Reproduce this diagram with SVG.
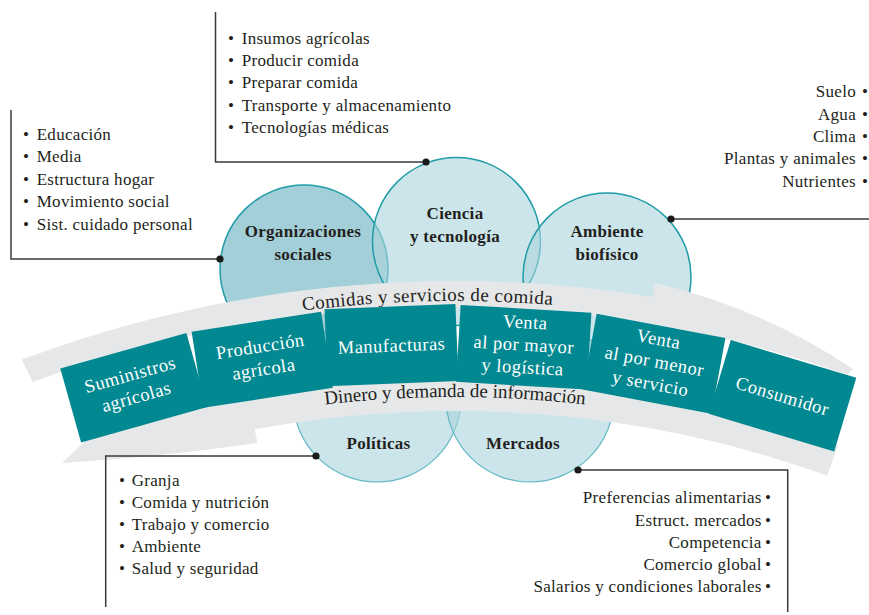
<svg xmlns="http://www.w3.org/2000/svg" width="869" height="615" viewBox="0 0 869 615">
<style>
.bg{fill:#ffffff}
.circ-up{stroke:#1f9ca7;stroke-width:1.5}
.circ-low{stroke:#63b9c3;stroke-width:1.2}
.fill-dark{fill:#a3cfd8}
.fill-light{fill:#aad4dc;fill-opacity:0.6}
.band{fill:#e6e7e8}
.box{fill:#028890}
.lbl{font-family:"Liberation Serif","DejaVu Serif",serif;font-weight:bold;font-size:17px;fill:#231f20;text-anchor:middle;letter-spacing:0.3px}
.boxt{font-family:"Liberation Serif","DejaVu Serif",serif;font-size:18.5px;fill:#ffffff;text-anchor:middle;letter-spacing:0.5px}
.bandt{font-family:"Liberation Serif","DejaVu Serif",serif;font-size:19px;fill:#231f20;text-anchor:middle}
.list{font-family:"Liberation Serif","DejaVu Serif",serif;font-size:17px;fill:#231f20;letter-spacing:0.3px}
.end{text-anchor:end}
.conn{fill:none;stroke:#3a3a3a;stroke-width:1.5}
.dot{fill:#1a1a1a}
</style>
<defs>
<path id="arcTop" d="M140.8,342.4 A1214,1214 0 0 1 769.2,342.4"/>
<path id="arcBot" d="M165.6,435.1 A1118,1118 0 0 1 744.4,435.1"/>
</defs>
<rect class="bg" x="0" y="0" width="869" height="615"/>

<g id="circles">
<g id="organizaciones-sociales">
<circle class="fill-dark circ-up" cx="304" cy="269" r="84"/>
<text class="lbl" x="303" y="237">Organizaciones</text>
<text class="lbl" x="303" y="259.5">sociales</text>
</g>
<g id="ciencia-tecnologia">
<circle class="fill-light circ-up" cx="456.5" cy="241.5" r="84"/>
<text class="lbl" x="455" y="219">Ciencia</text>
<text class="lbl" x="455" y="241.5">y tecnología</text>
</g>
<g id="ambiente-biofisico">
<circle class="fill-light circ-up" cx="607" cy="277" r="84"/>
<text class="lbl" x="607" y="237">Ambiente</text>
<text class="lbl" x="607" y="259.5">biofísico</text>
</g>
<g id="politicas">
<circle class="fill-light circ-low" cx="377" cy="398" r="84"/>
<text class="lbl" x="378.5" y="448.5">Políticas</text>
</g>
<g id="mercados">
<circle class="fill-light circ-low" cx="530" cy="398" r="84"/>
<text class="lbl" x="523" y="448.5">Mercados</text>
</g>
</g>

<g id="flow-band">
<path id="band-comidas" class="band" d="M21.7,359.6 A1234,1234 0 0 1 652.7,296.9 L654.9,283.1 Q762,308 853,369 L847.6,374.7 A1202,1202 0 0 0 32.8,381.9 Z"/>
<path id="band-dinero" class="band" d="M838,445.5 L827.2,475.6 A1104,1104 0 0 0 254.8,429.3 L257.3,443.1 Q160,457 62,463 L85.2,440.9 A1136,1136 0 0 1 838,445.5 Z"/>
<text class="bandt" style="letter-spacing:0.45px"><textPath href="#arcTop" startOffset="45.7%">Comidas y servicios de comida</textPath></text>
<text class="bandt"><textPath href="#arcBot" startOffset="50%">Dinero y demanda de información</textPath></text>
</g>

<g id="suministros-agricolas" transform="translate(133.75,387.75) rotate(-15.7)">
<rect class="box" x="-65.5" y="-38.5" width="131" height="77"/>
<text class="boxt" x="0" y="-7.5">Suministros</text>
<text class="boxt" x="0" y="15.5">agrícolas</text>
</g>
<g id="produccion-agricola" transform="translate(262.25,359.75) rotate(-8.8)">
<rect class="box" x="-65.5" y="-38.5" width="131" height="77"/>
<text class="boxt" x="0" y="-7.5">Producción</text>
<text class="boxt" x="0" y="15.5">agrícola</text>
</g>
<g id="manufacturas" transform="translate(391.5,345.2) rotate(-2.3)">
<rect class="box" x="-65.5" y="-38.5" width="131" height="77"/>
<text class="boxt" x="0" y="6.5">Manufacturas</text>
</g>
<g id="venta-mayor" transform="translate(523.75,347.25) rotate(3.4)">
<rect class="box" x="-65.5" y="-38.5" width="131" height="77"/>
<text class="boxt" x="0" y="-19">Venta</text>
<text class="boxt" x="0" y="3.5">al por mayor</text>
<text class="boxt" x="0" y="26">y logística</text>
</g>
<g id="venta-menor" transform="translate(654,363.75) rotate(10.6)">
<rect class="box" x="-65.5" y="-38.5" width="131" height="77"/>
<text class="boxt" x="0" y="-19">Venta</text>
<text class="boxt" x="0" y="3.5">al por menor</text>
<text class="boxt" x="0" y="26">y servicio</text>
</g>
<g id="consumidor" transform="translate(782.5,395.75) rotate(16.7)">
<rect class="box" x="-65.5" y="-38.5" width="131" height="77"/>
<text class="boxt" x="0" y="6.5">Consumidor</text>
</g>

<g id="connectors">
<polyline class="conn" points="215.5,12 215.5,162 426,162"/>
<circle class="dot" cx="426" cy="162" r="3.6"/>
<polyline class="conn" points="11,110 11,259 220,259"/>
<circle class="dot" cx="220" cy="259" r="3.6"/>
<polyline class="conn" points="671,219 869,219"/>
<circle class="dot" cx="671" cy="219" r="3.6"/>
<polyline class="conn" points="316,456 105.7,456 105.7,607"/>
<circle class="dot" cx="316" cy="456" r="3.6"/>
<polyline class="conn" points="578,470 787.7,470 787.7,612"/>
<circle class="dot" cx="578" cy="470" r="3.6"/>
</g>

<g id="list-ciencia" class="list">
<text x="228" y="43.5">•<tspan x="241.7">Insumos agrícolas</tspan></text>
<text x="228" y="65.9">•<tspan x="241.7">Producir comida</tspan></text>
<text x="228" y="88.3">•<tspan x="241.7">Preparar comida</tspan></text>
<text x="228" y="110.7">•<tspan x="241.7">Transporte y almacenamiento</tspan></text>
<text x="228" y="133.1">•<tspan x="241.7">Tecnologías médicas</tspan></text>
</g>
<g id="list-organizaciones" class="list">
<text x="23" y="140">•<tspan x="36.7">Educación</tspan></text>
<text x="23" y="162.4">•<tspan x="36.7">Media</tspan></text>
<text x="23" y="184.9">•<tspan x="36.7">Estructura hogar</tspan></text>
<text x="23" y="207.3">•<tspan x="36.7">Movimiento social</tspan></text>
<text x="23" y="229.8">•<tspan x="36.7">Sist. cuidado personal</tspan></text>
</g>
<g id="list-ambiente" class="list">
<text class="end" x="856" y="97.3">Suelo</text><text x="862" y="97.3">•</text>
<text class="end" x="856" y="119.6">Agua</text><text x="862" y="119.6">•</text>
<text class="end" x="856" y="141.9">Clima</text><text x="862" y="141.9">•</text>
<text class="end" x="856" y="164.2">Plantas y animales</text><text x="862" y="164.2">•</text>
<text class="end" x="856" y="186.5">Nutrientes</text><text x="862" y="186.5">•</text>
</g>
<g id="list-politicas" class="list">
<text x="119" y="485.7">•<tspan x="131.7">Granja</tspan></text>
<text x="119" y="507.8">•<tspan x="131.7">Comida y nutrición</tspan></text>
<text x="119" y="529.9">•<tspan x="131.7">Trabajo y comercio</tspan></text>
<text x="119" y="552">•<tspan x="131.7">Ambiente</tspan></text>
<text x="119" y="574.1">•<tspan x="131.7">Salud y seguridad</tspan></text>
</g>
<g id="list-mercados" class="list">
<text class="end" x="761.7" y="503.3">Preferencias alimentarias</text><text x="765" y="503.3">•</text>
<text class="end" x="761.7" y="525.5">Estruct. mercados</text><text x="765" y="525.5">•</text>
<text class="end" x="761.7" y="547.8">Competencia</text><text x="765" y="547.8">•</text>
<text class="end" x="761.7" y="570">Comercio global</text><text x="765" y="570">•</text>
<text class="end" x="761.7" y="592.3">Salarios y condiciones laborales</text><text x="765" y="592.3">•</text>
</g>
</svg>
